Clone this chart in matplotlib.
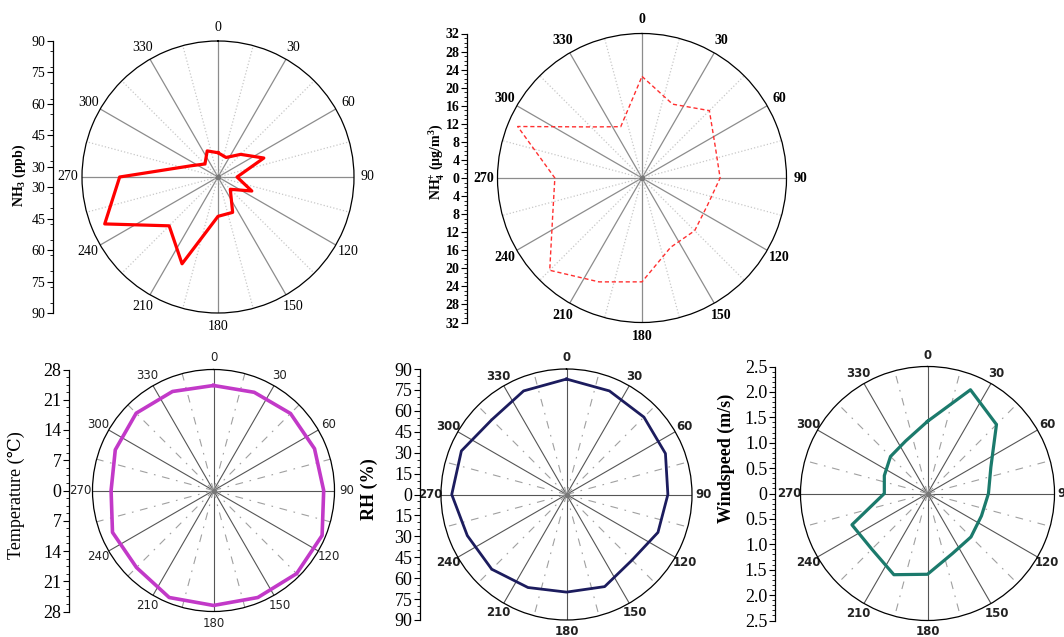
import numpy as np
import matplotlib
matplotlib.use("Agg")
import matplotlib.pyplot as plt

plt.rcParams['mathtext.fontset'] = 'custom'
plt.rcParams['mathtext.rm'] = 'Liberation Serif'
plt.rcParams['mathtext.bf'] = 'Liberation Serif:bold'
plt.rcParams['mathtext.it'] = 'Liberation Serif:italic'

W, H = 1064, 637
SERIF = ['Liberation Serif', 'DejaVu Serif']

# wind direction sectors (degrees)
directions = [0, 22.5, 45, 67.5, 90, 112.5, 135, 157.5,
              180, 202.5, 225, 247.5, 270, 292.5, 315, 337.5]

nh3 = [36.6, 35.1, 40.3, 48.7, 34.1, 42.5, 33.3, 43.3,
       43.8, 69.9, 58.0, 83.6, 72.0, 39.0, 33.8, 38.5]
nh4 = [22.5, 17.7, 21.1, 17.6, 17.3, 15.7, 16.5, 16.6,
       23.0, 24.9, 28.9, 21.4, 19.3, 29.8, 16.0, 12.3]
temperature = [24.3, 24.6, 25.2, 25.3, 25.5, 27.2, 27.2, 26.8,
               26.6, 26.8, 25.2, 25.3, 23.7, 24.6, 25.3, 24.8]
rh = [82.8, 80.4, 78.5, 76.8, 72.7, 71.0, 66.5, 71.5,
      70.0, 72.2, 75.8, 77.0, 82.3, 81.6, 75.8, 80.4]
windspeed = [1.42, 2.21, 1.92, 1.35, 1.20, 1.15, 1.21, 1.28,
             1.59, 1.73, 1.55, 1.61, 0.85, 0.92, 1.03, 1.12]

angle_labels = ['0', '30', '60', '90', '120', '150',
                '180', '210', '240', '270', '300', '330']

nh3_ticks = [30, 45, 60, 75, 90]
nh4_ticks = [0, 4, 8, 12, 16, 20, 24, 28, 32]
temp_ticks = [0, 7, 14, 21, 28]
rh_ticks = [0, 15, 30, 45, 60, 75, 90]
ws_ticks = [0, 0.5, 1.0, 1.5, 2.0, 2.5]

fig = plt.figure(figsize=(W / 100, H / 100), dpi=100)


def polar_panel(cx, cy, r, rmin, rmax, top=True, lab_font=None, pad=3):
    ax = fig.add_axes([(cx - r) / W, 1 - (cy + r) / H, 2 * r / W, 2 * r / H],
                      projection='polar')
    ax.set_theta_zero_location('N')
    ax.set_theta_direction(-1)
    ax.set_ylim(rmin, rmax)
    ax.set_yticks([])
    ax.set_xticks(np.deg2rad(np.arange(0, 360, 30)))
    ax.set_xticklabels(angle_labels, **lab_font)
    ax.set_xticks(np.deg2rad(np.arange(15, 360, 30)), minor=True)
    ax.grid(False)
    if top:
        ax.xaxis.grid(True, which='major', color='#8c8c8c', lw=0.9, ls='-')
        ax.xaxis.grid(True, which='minor', color='#c8c8c8', lw=0.9, ls=':')
    else:
        ax.xaxis.grid(True, which='major', color='#555555', lw=0.8, ls='-')
        ax.xaxis.grid(True, which='minor', color='#a0a0a0', lw=0.8,
                      ls=(0, (7, 6, 1.5, 6)))
    ax.tick_params(axis='x', which='both', length=0, pad=pad)
    ax.spines['polar'].set_color('black')
    ax.spines['polar'].set_linewidth(0.9)
    ax.plot(0, rmin, 'o', color='#777777', ms=3, zorder=3)
    return ax


def scale_axis(x, cy, r, rmin, rmax, ticks, minor_step, fmt, font):
    sax = fig.add_axes([x / W, 1 - (cy + r) / H, 0.0001, 2 * r / H])
    span = rmax - rmin
    sax.set_ylim(-span, span)
    pos, labs = [], []
    for v in ticks:
        if v - rmin <= 1e-9:
            pos.append(0)
            labs.append(fmt(v))
        else:
            pos += [v - rmin, -(v - rmin)]
            labs += [fmt(v), fmt(v)]
    sax.set_yticks(pos)
    sax.set_yticklabels(labs, **font)
    mins = np.arange(minor_step, span + 1e-9, minor_step)
    sax.set_yticks(np.concatenate([mins, -mins]), minor=True)
    sax.set_xticks([])
    for s in ['top', 'right', 'bottom']:
        sax.spines[s].set_visible(False)
    sax.spines['left'].set_linewidth(0.9)
    sax.tick_params(axis='y', which='major', length=4, width=0.8, pad=1.5)
    sax.tick_params(axis='y', which='minor', length=2, width=0.6)
    return sax


def closed(vals):
    th = np.deg2rad(directions + directions[:1])
    return th, list(vals) + [vals[0]]


# ---- NH3 ----
ax1 = polar_panel(218, 177, 136, 25, 90,
                  lab_font=dict(family=SERIF, fontsize=10))
t, v = closed(nh3)
ax1.plot(t, v, color='#ff0000', lw=2.3)
scale_axis(53, 177, 136, 25, 90, nh3_ticks, 7.5, lambda v: f'{v:g}',
           dict(family=SERIF, fontsize=10))
fig.text(19 / W, 1 - 175 / H, r'NH$_\mathbf{3}$ (ppb)', rotation=90,
         ha='center', va='center', family=SERIF, fontsize=10, weight='bold')

# ---- NH4+ ----
ax2 = polar_panel(642, 178, 144.5, 0, 32,
                  lab_font=dict(family=SERIF, fontsize=10, weight='bold'))
t, v = closed(nh4)
ax2.plot(t, v, color='#ff3030', lw=1.0, ls=(0, (3, 2)))
scale_axis(467, 178, 144.5, 0, 32, nh4_ticks, 1, lambda v: f'{v:g}',
           dict(family=SERIF, fontsize=10, weight='bold'))
fig.text(437 / W, 1 - 162 / H, r'NH$_\mathbf{4}^\mathbf{+}$ (μg/m$^\mathbf{3}$)',
         rotation=90, ha='center', va='center', family=SERIF, fontsize=10,
         weight='bold')

bot_font = dict(family='DejaVu Sans', fontsize=8.5, color='#222222')
bot_bold = dict(family='DejaVu Sans', fontsize=8.5, color='#222222',
                weight='bold')

# ---- Temperature ----
ax3 = polar_panel(213.5, 490.5, 121, 0, 28, top=False, lab_font=bot_font,
                  pad=1.5)
t, v = closed(temperature)
ax3.plot(t, v, color='#c239c8', lw=2.6)
scale_axis(69, 490.5, 121, 0, 28, temp_ticks, 1.75, lambda v: f'{v:g}',
           dict(family=SERIF, fontsize=13))
fig.text(16 / W, 1 - 495 / H, 'Temperature (℃)', rotation=90,
         ha='center', va='center', family=SERIF, fontsize=13)

# ---- RH ----
ax4 = polar_panel(566.5, 494.5, 125.5, 0, 90, top=False, lab_font=bot_bold,
                  pad=1)
t, v = closed(rh)
ax4.plot(t, v, color='#1c1c5e', lw=2.0)
scale_axis(420, 494.5, 125.5, 0, 90, rh_ticks, 5, lambda v: f'{v:g}',
           dict(family=SERIF, fontsize=13))
fig.text(369 / W, 1 - 489 / H, 'RH (%)', rotation=90,
         ha='center', va='center', family=SERIF, fontsize=13, weight='bold')

# ---- Windspeed ----
ax5 = polar_panel(927.5, 493.5, 127, 0, 2.5, top=False, lab_font=bot_bold,
                  pad=1)
t, v = closed(windspeed)
ax5.plot(t, v, color='#1b7a6c', lw=2.3)
scale_axis(775, 493.5, 127, 0, 2.5, ws_ticks, 0.1,
           lambda v: '0' if v == 0 else f'{v:.1f}',
           dict(family=SERIF, fontsize=13))
fig.text(726 / W, 1 - 458 / H, 'Windspeed (m/s)', rotation=90,
         ha='center', va='center', family=SERIF, fontsize=13, weight='bold')

fig.savefig('out.png', dpi=100)
